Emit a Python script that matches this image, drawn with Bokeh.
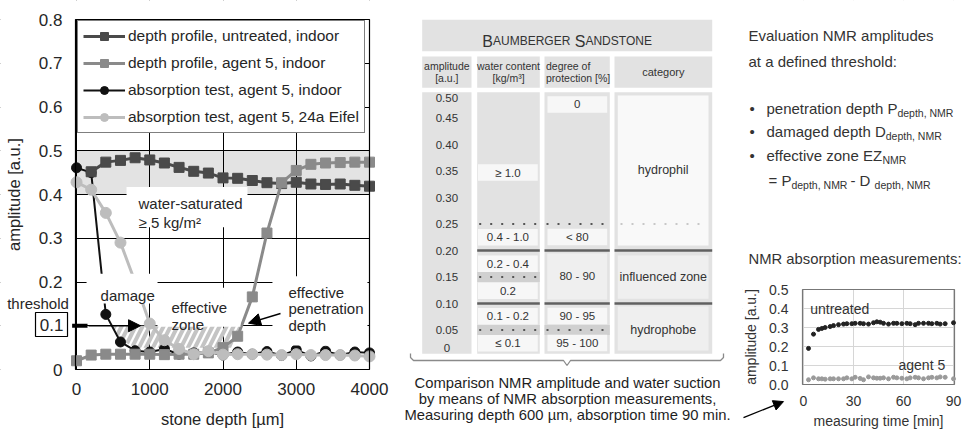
from bokeh.plotting import figure
from bokeh.layouts import row
from bokeh.models import Range1d, Arrow, NormalHead, Legend, LegendItem, FixedTicker
from bokeh.core.properties import value
from bokeh.embed import file_html
from bokeh.resources import INLINE

FONT = "Liberation Sans"
TXT = "#262626"

# ---------------- data: NMR depth profiles ----------------
depth_um = [0, 200, 400, 600, 800, 1000, 1200, 1400, 1600, 1800, 2000,
            2200, 2400, 2600, 2800, 3000, 3200, 3400, 3600, 3800, 4000]
untreated_depth = depth_um[1:]
untreated_amp = [0.452, 0.474, 0.478, 0.484, 0.479, 0.472, 0.462, 0.453, 0.449, 0.438,
                 0.437, 0.432, 0.427, 0.425, 0.428, 0.424, 0.423, 0.424, 0.421, 0.419]
agent5_amp = [0.020, 0.033, 0.035, 0.035, 0.035, 0.035, 0.034, 0.035, 0.035, 0.038, 0.050,
              0.076, 0.166, 0.312, 0.427, 0.455, 0.469, 0.472, 0.473, 0.474, 0.474]
absorb_indoor_amp = [0.461, 0.450, 0.126, 0.063, 0.043, 0.040, 0.047, 0.035, 0.038, 0.040, 0.033,
                     0.040, 0.035, 0.041, 0.032, 0.045, 0.031, 0.042, 0.033, 0.040, 0.038]
absorb_eifel_amp = [0.428, 0.411, 0.358, 0.290, 0.200, 0.105, 0.067, 0.047, 0.035, 0.042, 0.034,
                    0.035, 0.035, 0.034, 0.033, 0.035, 0.033, 0.033, 0.033, 0.032, 0.030]
series_names = ["depth profile, untreated, indoor", "depth profile, agent 5, indoor",
                "absorption test, agent 5, indoor", "absorption test, agent 5, 24a Eifel"]
threshold = 0.1
y_ticks = [0, 0.1, 0.2, 0.3, 0.4, 0.5, 0.6, 0.7, 0.8]
y_tick_labels = ["0", "", "0.2", "0.3", "0.4", "0.5", "0.6", "0.7", "0.8"]
x_ticks = [0, 1000, 2000, 3000, 4000]
saturated_band = (0.4, 0.5)
zone_x = [480, 2240, 2110, 800, 600]
zone_y = [0.1, 0.1, 0.05, 0.05, 0.068]

# ---------------- data: table ----------------
amp_scale_labels = ["0.50", "0.45", "0.40", "0.35", "0.30", "0.25", "0.20", "0.15", "0.10", "0.05", "0"]
amp_scale_values = [0.50, 0.45, 0.40, 0.35, 0.30, 0.25, 0.20, 0.15, 0.10, 0.05, 0.0]
water_content = ["\u2265 1.0", "0.4 - 1.0", "0.2 - 0.4", "0.2", "0.1 - 0.2", "\u2264 0.1"]
water_amp = [0.347, 0.225, 0.175, 0.124, 0.076, 0.025]
protection = ["0", "< 80", "80 - 90", "90 - 95", "95 - 100"]
protection_amp = [0.4755, 0.2255, 0.151, 0.0764, 0.0255]
categories = ["hydrophil", "influenced zone", "hydrophobe"]
category_amp = [0.352, 0.15, 0.05]
class_borders = [0.20, 0.10]

# ---------------- data: absorption measurement ----------------
t_untreated = [3, 6, 9, 11, 13, 16, 18, 21, 24, 26, 29, 31, 34, 36, 39, 42, 44, 46, 48,
               51, 54, 56, 59, 62, 64, 67, 69, 72, 75, 77, 80, 82, 85, 90]
a_untreated = [0.19, 0.265, 0.29, 0.295, 0.30, 0.305, 0.31, 0.315, 0.318, 0.32, 0.32, 0.322,
               0.322, 0.32, 0.318, 0.325, 0.33, 0.328, 0.322, 0.318, 0.322, 0.322, 0.32, 0.322,
               0.32, 0.315, 0.322, 0.322, 0.322, 0.32, 0.322, 0.318, 0.32, 0.325]
t_agent5 = t_untreated
a_agent5 = [0.025, 0.035, 0.03, 0.03, 0.028, 0.03, 0.03, 0.03, 0.03, 0.035, 0.03, 0.038,
            0.032, 0.025, 0.04, 0.035, 0.033, 0.033, 0.035, 0.03, 0.038, 0.035, 0.033, 0.03,
            0.035, 0.038, 0.035, 0.03, 0.035, 0.038, 0.035, 0.04, 0.038, 0.03]

AW = {' ': 278, ',': 278, '.': 278, '-': 333, '=': 584, ':': 278, '[': 278, ']': 278, '%': 889,
      'a': 556, 'b': 556, 'c': 500, 'd': 556, 'e': 556, 'f': 278, 'g': 556, 'h': 556, 'i': 222,
      'j': 222, 'k': 500, 'l': 222, 'm': 833, 'n': 556, 'o': 556, 'p': 556, 'q': 556, 'r': 333,
      's': 500, 't': 278, 'u': 556, 'v': 500, 'w': 722, 'x': 500, 'y': 500, 'z': 500,
      'A': 667, 'B': 667, 'C': 722, 'D': 722, 'E': 667, 'F': 611, 'G': 778, 'H': 722, 'I': 278,
      'M': 833, 'N': 722, 'O': 778, 'P': 667, 'R': 722, 'S': 667, 'T': 611, 'U': 722, 'Z': 611}


def text_w(s, px):
    return sum(AW.get(c, 556) for c in s) * px / 1000.0


def tx(p, x, y, text, size, align="left", baseline="middle", color=TXT, **kw):
    p.text(x=x, y=y, text=text, text_font=value(FONT), text_font_size=size,
           text_align=align, text_baseline=baseline, text_color=color, **kw)


def no_align(p):
    try:
        p.frame_align = False
    except Exception:
        pass


def full_ranges(XR, YR, fl, fr, ft, fb, W, H):
    # ranges for a frame that fills the whole canvas, with the chart box at (fl..fr, ft..fb) px
    sx = (XR[1] - XR[0]) / (fr - fl)
    sy = (YR[1] - YR[0]) / (fb - ft)
    return (Range1d(XR[0] - fl * sx, XR[1] + (W - fr) * sx),
            Range1d(YR[0] - (H - fb) * sy, YR[1] + ft * sy))


def style_axes(p, XR, YR, size_tick, size_lab, color):
    p.yaxis.fixed_location = XR[0]
    p.yaxis.bounds = YR
    p.xaxis.fixed_location = YR[0]
    p.xaxis.bounds = XR
    for ax in (p.xaxis[0], p.yaxis[0]):
        ax.axis_line_color = None
        ax.major_tick_out = 0
        ax.major_tick_in = 0
        ax.minor_tick_out = 0
        ax.minor_tick_in = 0
        ax.major_label_text_font = FONT
        ax.major_label_text_font_size = size_tick
        ax.major_label_text_color = color
        ax.axis_label_text_font = FONT
        ax.axis_label_text_font_size = size_lab
        ax.axis_label_text_font_style = "normal"
        ax.axis_label_text_color = color


def mask_outside(p, xr, yr, XR, YR):
    # hide the grid lines outside the chart box (drawn above the grid, below the data)
    p.quad(left=[xr.start, XR[1], xr.start, xr.start], right=[XR[0], xr.end, xr.end, xr.end],
           bottom=[yr.start, yr.start, YR[1], yr.start], top=[yr.end, yr.end, yr.end, YR[0]],
           fill_color="white", line_color=None)


# =============== Figure A: depth profiles ===============
XR = (-14, 4000)
YR = (0, 0.8)
xrA, yrA = full_ranges(XR, YR, 75, 369, 19, 369, 398, 429)
pA = figure(width=398, height=429, x_range=xrA, y_range=yrA, output_backend="svg",
            toolbar_location=None, min_border=0)
no_align(pA)
pA.outline_line_color = None
style_axes(pA, XR, YR, "17px", "16.5px", TXT)
pA.xaxis.ticker = FixedTicker(ticks=x_ticks)
pA.yaxis.ticker = FixedTicker(ticks=y_ticks)
pA.yaxis.major_label_overrides = {t: l for t, l in zip(y_ticks, y_tick_labels)}
pA.xaxis.axis_label = "stone depth [\u00b5m]"
pA.yaxis.axis_label = "amplitude [a.u.]"
pA.xaxis.major_label_standoff = 13
pA.xaxis.axis_label_standoff = 12
pA.yaxis.major_label_standoff = 13
pA.yaxis.axis_label_standoff = 13
pA.xgrid.ticker = FixedTicker(ticks=x_ticks)
pA.ygrid.ticker = FixedTicker(ticks=y_ticks)
for g in (pA.xgrid[0], pA.ygrid[0]):
    g.grid_line_color = "black"
    g.grid_line_width = 1
    g.grid_line_alpha = 1

pA.quad(left=XR[0], right=XR[1], bottom=saturated_band[0], top=saturated_band[1],
        fill_color="#e3e3e3", line_color=None, level="image")
mask_outside(pA, xrA, yrA, XR, YR)
pA.patch(zone_x, zone_y, fill_color="white", fill_alpha=0, line_color=None,
         hatch_pattern="/", hatch_color="#c4c4c4", hatch_weight=4, hatch_scale=14)

r_ab_l = pA.line(depth_um, absorb_indoor_amp, line_color="#111111", line_width=2)
r_ab_p = pA.scatter(depth_um, absorb_indoor_amp, marker="circle", size=10,
                    fill_color="#111111", line_color="#111111")
r_un_l = pA.line(untreated_depth, untreated_amp, line_color="#4a4a4a", line_width=3)
r_un_p = pA.scatter(untreated_depth, untreated_amp, marker="square", size=10,
                    fill_color="#4a4a4a", line_color="#4a4a4a")
r_ag_l = pA.line(depth_um, agent5_amp, line_color="#8a8a8a", line_width=3)
r_ag_p = pA.scatter(depth_um, agent5_amp, marker="square", size=10,
                    fill_color="#8a8a8a", line_color="#8a8a8a")
r_ei_l = pA.line(depth_um, absorb_eifel_amp, line_color="#bdbdbd", line_width=3)
r_ei_p = pA.scatter(depth_um, absorb_eifel_amp, marker="circle", size=11,
                    fill_color="#bdbdbd", line_color="#bdbdbd")

# white boxes behind the annotations
box_l = [683, 137, 1106, 2675]
box_r = [2334, 1106, 2239, 3972]
box_t = [0.417, 0.219, 0.187, 0.213]
box_b = [0.325, 0.151, 0.098, 0.055]
pA.quad(left=box_l, right=box_r, top=box_t, bottom=box_b, fill_color="white", line_color=None)
# chart border
pA.quad(left=[XR[0]], right=[XR[1]], bottom=[YR[0]], top=[YR[1]], fill_color=None,
        line_color="black", line_width=1.2)

tx(pA, [846, 846], [0.379, 0.335], ["water-saturated", "\u2265 5 kg/m\u00b2"], "15px")
tx(pA, [328], [0.169], ["damage"], "15px")
tx(pA, [1297, 1297], [0.141, 0.103], ["effective", "zone"], "15px")
tx(pA, [2894, 2894, 2894], [0.177, 0.139, 0.100], ["effective", "penetration", "depth"], "15px")

# threshold marker on the y axis
pA.segment(x0=[-60], x1=[150], y0=[threshold], y1=[threshold], line_color="black", line_width=4)
pA.quad(left=[-560], right=[-123], bottom=[0.0754], top=[0.1303], fill_color="white",
        line_color="black", line_width=1.2)
tx(pA, [-341], [threshold + 0.002], ["0.1"], "17px", align="center")
tx(pA, [-526], [0.151], ["threshold"], "15px", align="center")

pA.add_layout(Arrow(end=NormalHead(size=12, fill_color="black", line_color="black"),
                    x_start=164, y_start=threshold, x_end=874, y_end=threshold,
                    line_color="black", line_width=1.5))
pA.add_layout(Arrow(end=NormalHead(size=12, fill_color="black", line_color="black"),
                    x_start=2785, y_start=0.128, x_end=2348, y_end=0.106,
                    line_color="black", line_width=1.5))

legend = Legend(items=[LegendItem(label=series_names[0], renderers=[r_un_l, r_un_p]),
                       LegendItem(label=series_names[1], renderers=[r_ag_l, r_ag_p]),
                       LegendItem(label=series_names[2], renderers=[r_ab_l, r_ab_p]),
                       LegendItem(label=series_names[3], renderers=[r_ei_l, r_ei_p])],
                location=(77, 296), label_text_font=FONT, label_text_font_size="15.5px",
                label_text_color=TXT, glyph_width=42, glyph_height=20, label_height=20,
                label_standoff=3, spacing=7, padding=5, margin=0,
                border_line_color="black", border_line_width=1.2, background_fill_alpha=1)
pA.add_layout(legend)

# =============== Figure B: classification table ===============


def A(py):
    return 0.2 + (250 - py) / 530.0


pB = figure(width=344, height=429, x_range=Range1d(398, 742), y_range=Range1d(A(429), A(0)),
            output_backend="svg", toolbar_location=None, x_axis_location=None,
            y_axis_location=None, min_border=0)
no_align(pB)
pB.grid.visible = False
pB.outline_line_color = None
GRAY = "#e2e2e2"
cols_l = [421.7, 476.7, 544.0, 614.0]
cols_r = [471.0, 539.3, 609.3, 711.7]
cols_c = [(a + b) / 2 for a, b in zip(cols_l, cols_r)]
pB.quad(left=[421.7], right=[711.7], top=[A(19.3)], bottom=[A(50.7)], fill_color=GRAY, line_color=None)
pB.quad(left=cols_l, right=cols_r, top=[A(56)] * 4, bottom=[A(87.3)] * 4, fill_color=GRAY, line_color=None)
pB.quad(left=cols_l, right=cols_r, top=[A(91.7)] * 4, bottom=[A(353.3)] * 4, fill_color=GRAY, line_color=None)

title_parts = [("B", "16px"), ("AUMBERGER", "12px"), (" ", "16px"), ("S", "16px"), ("ANDSTONE", "12px")]
tot = sum(text_w(s, float(sz[:-2])) for s, sz in title_parts)
x0 = 566.7 - tot / 2
for s, sz in title_parts:
    tx(pB, [x0], [A(40.5)], [s], sz, baseline="alphabetic", color="#333333")
    x0 += text_w(s, float(sz[:-2]))

tx(pB, [cols_c[0], cols_c[0], cols_c[1], cols_c[1]], [A(65.7), A(77.7), A(65.7), A(77.7)],
   ["amplitude", "[a.u.]", "water content", "[kg/m\u00b3]"], "10.5px", align="center", color="#333333")
tx(pB, [545.5, 545.5], [A(65.7), A(77.7)], ["degree of", "protection [%]"], "10.5px", color="#333333")
tx(pB, [cols_c[3]], [A(71.7)], ["category"], "11px", align="center", color="#333333")

pB.quad(left=[cols_l[1], cols_l[1], cols_l[2]], right=[cols_r[1], cols_r[1], cols_r[2]],
        top=[0.15 + 0.0094, 0.05 + 0.0094, 0.05 + 0.0094],
        bottom=[0.15 - 0.0094, 0.05 - 0.0094, 0.05 - 0.0094], fill_color="#d0d0d0", line_color=None)
pB.quad(left=[617.3] * 3, right=[708.0] * 3, top=[A(95), A(255), A(306)],
        bottom=[A(245), A(298.3), A(350)], fill_color=["#f9f9f9", "#efefef", "#efefef"], line_color=None)
pB.quad(left=[546.7], right=[606.7], top=[A(253)], bottom=[A(299)], fill_color="#efefef", line_color=None)
bh = 0.0156
pB.quad(left=[477.5] * len(water_amp), right=[537.3] * len(water_amp),
        top=[a + bh for a in water_amp], bottom=[a - bh for a in water_amp],
        fill_color="#f7f7f7", line_color=None)
pr_idx = [0, 1, 3, 4]
pB.quad(left=[547.0] * 4, right=[606.7] * 4, top=[protection_amp[i] + bh for i in pr_idx],
        bottom=[protection_amp[i] - bh for i in pr_idx], fill_color="#f7f7f7", line_color=None)
pB.segment(x0=[cols_l[1] + 2, cols_l[2] + 2, cols_l[1] + 2, cols_l[1] + 2, cols_l[2] + 2],
           x1=[cols_r[1] - 2, cols_r[2] - 2, cols_r[1] - 2, cols_r[1] - 2, cols_r[2] - 2],
           y0=[0.25, 0.25, 0.15, 0.05, 0.05], y1=[0.25, 0.25, 0.15, 0.05, 0.05],
           line_color="#555555", line_width=2, line_dash="2 9")
pB.segment(x0=[cols_l[3] + 6], x1=[cols_r[3] - 6], y0=[0.25], y1=[0.25],
           line_color="#c8c8c8", line_width=2, line_dash="2 9")
for lvl in class_borders:
    pB.segment(x0=cols_l[1:], x1=cols_r[1:], y0=[lvl] * 3, y1=[lvl] * 3,
               line_color="#606060", line_width=2.5)

amp_label_pos = [A(97)] + amp_scale_values[1:-1] + [A(347)]
tx(pB, [cols_c[0]] * len(amp_scale_labels), amp_label_pos, amp_scale_labels, "11.5px",
   align="center", color="#333333")
tx(pB, [507.4] * len(water_content), water_amp, water_content, "11.5px", align="center", color="#333333")
tx(pB, [576.8] * len(protection), protection_amp, protection, "11.5px", align="center", color="#333333")
tx(pB, [662.7] * len(categories), category_amp, categories, "12.5px", align="center", color="#333333")

bx = [410, 410, 413, 563, 566.5, 570, 720, 723, 723]
by = [353, 357, 360, 360, 365, 360, 360, 357, 353]
pB.line(bx, [A(v) for v in by], line_color="#8a8a8a", line_width=1.3)
caption = ["Comparison NMR amplitude and water suction",
           "by means of NMR absorption measurements,",
           "Measuring depth 600 \u00b5m, absorption time 90 min."]
tx(pB, [567] * 3, [A(382), A(398), A(414)], caption, "14.8px", align="center", color="#1e1e1e")

# =============== Figure C: evaluation text + absorption measurement ===============
XRC = (-0.6, 90.6)
YRC = (0, 0.5)
xrC, yrC = full_ranges(XRC, YRC, 60, 212, 289, 384, 224, 429)
pC = figure(width=224, height=429, x_range=xrC, y_range=yrC, output_backend="svg",
            toolbar_location=None, min_border=0,
            extra_x_ranges={"px": Range1d(742, 966)}, extra_y_ranges={"py": Range1d(429, 0)})
no_align(pC)
pC.outline_line_color = None
style_axes(pC, XRC, YRC, "14px", "14px", "#333333")
c2_yt = [0, 0.1, 0.2, 0.3, 0.4, 0.5]
c2_xt = [0, 30, 60, 90]
pC.xaxis.ticker = FixedTicker(ticks=c2_xt)
pC.yaxis.ticker = FixedTicker(ticks=c2_yt)
pC.yaxis.major_label_overrides = {t: "%.1f" % t for t in c2_yt}
pC.xgrid.ticker = FixedTicker(ticks=c2_xt)
pC.ygrid.ticker = FixedTicker(ticks=c2_yt)
pC.grid.grid_line_color = "#d6d6d6"
pC.xaxis.axis_label = "measuring time [min]"
pC.yaxis.axis_label = "amplitude [a.u.]"
pC.xaxis.major_label_standoff = 11
pC.xaxis.axis_label_standoff = 4
pC.yaxis.major_label_standoff = 14
pC.yaxis.axis_label_standoff = 7
mask_outside(pC, xrC, yrC, XRC, YRC)
pC.quad(left=[XRC[0]], right=[XRC[1]], bottom=[YRC[0]], top=[YRC[1]], fill_color=None,
        line_color="#777777", line_width=1.2)
pC.scatter(t_agent5, a_agent5, size=4, fill_color="#9a9a9a", line_color="#9a9a9a")
pC.scatter(t_untreated, a_untreated, size=4, fill_color="#222222", line_color="#222222")
tx(pC, [4], [0.395], ["untreated"], "14px", color="#333333")
tx(pC, [57], [0.105], ["agent 5"], "14px", color="#333333")
pC.add_layout(Arrow(end=NormalHead(size=10, fill_color="black", line_color="black"),
                    x_start=-36, y_start=-0.174, x_end=-12, y_end=-0.09,
                    line_color="black", line_width=1.3))

eval_heading = ["Evaluation NMR amplitudes", "at a defined threshold:"]
bullet_main = ["penetration depth P", "damaged depth D", "effective zone EZ"]
bullet_sub = ["depth, NMR", "depth, NMR", "NMR"]
bullet_y = [108, 131, 155]
FS, SS = 15, 10.5
PXR = dict(x_range_name="px", y_range_name="py")
tx(pC, [748, 748], [35, 61], eval_heading, "15px", color="#333333", **PXR)
tx(pC, [749] * 3, bullet_y, ["\u2022"] * 3, "15px", color="#333333", **PXR)
tx(pC, [766] * 3, bullet_y, bullet_main, "15px", color="#333333", **PXR)
tx(pC, [766 + text_w(m, FS) for m in bullet_main], [y + 4.5 for y in bullet_y], bullet_sub,
   "10.5px", color="#333333", **PXR)
fx = 768
parts = [("= P", FS, 0, 0), ("depth, NMR", SS, 4.5, 0), (" - D", FS, 0, 3), ("depth, NMR", SS, 4.5, 0)]
for s, sz, dy, gap in parts:
    fx += gap
    tx(pC, [fx], [180 + dy], [s], "%gpx" % sz, color="#333333", **PXR)
    fx += text_w(s, sz)
tx(pC, [748], [258], ["NMR absorption measurements:"], "14.8px", color="#333333", **PXR)

layout = row(pA, pB, pC)
open("out.html", "w").write(file_html(layout, INLINE))
